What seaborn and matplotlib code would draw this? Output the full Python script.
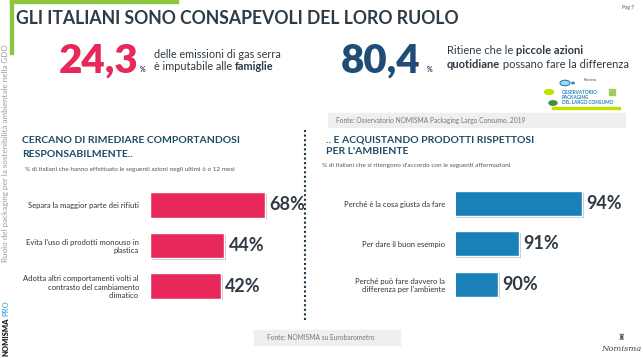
import matplotlib
matplotlib.use("Agg")
import matplotlib.pyplot as plt
import matplotlib.patheffects as pe
import seaborn as sns
from matplotlib.patches import Rectangle, Circle
from matplotlib.lines import Line2D

# ----- Data ----- #
left_labels = [
    "Separa la maggior parte dei rifiuti",
    "Evita l'uso di prodotti monouso in\nplastica",
    "Adotta altri comportamenti volti al\ncontrasto del cambiamento\nclimatico",
]
left_values = [68, 44, 42]

right_labels = [
    "Perché è la cosa giusta da fare",
    "Per dare il buon esempio",
    "Perché può fare davvero la\ndifferenza per l'ambiente",
]
right_values = [94, 91, 90]

kpi_values = ["24,3", "80,4"]

# ----- Style ----- #
sns.set_style("white")
plt.rcParams['font.family'] = ['Lato', 'DejaVu Sans']

PINK = "#e8285a"
BLUE = "#1a80b8"
NAVY = "#1f4d78"
HEAD = "#1d4a66"
DARK = "#2f3a44"
GRAY = "#555555"
GREEN = "#8cc63f"

W, H = 643, 358
fig = plt.figure(figsize=(W / 100, H / 100), dpi=100)
renderer = fig.canvas.get_renderer()


def px(x, y):
    return x / W, 1 - y / H


def text(x, y, s, **kw):
    return fig.text(*px(x, y), s, **kw)


def rich(x, y, parts, **kw):
    # parts: list of (string, weight); drawn one after the other on one line
    for s, weight in parts:
        t = text(x, y, s, fontweight=weight, **kw)
        x += t.get_window_extent(renderer).width


def rect(x, y, w, h, **kw):
    fig.patches.append(Rectangle(px(x, y + h), w / W, h / H,
                                 transform=fig.transFigure, **kw))


def axes_px(left, top, width, height):
    return fig.add_axes([left / W, 1 - (top + height) / H, width / W, height / H])


# ----- Decorations ----- #
rect(10, 0, 168, 3, color=GREEN, zorder=5)
rect(10, 0, 3, 54, color=GREEN, zorder=5)

text(16, 19, "GLI ITALIANI SONO CONSAPEVOLI DEL LORO RUOLO", fontsize=12.7,
     fontweight="bold", color="#2e3b45", va="center")
text(634, 8, "Pag 7", fontsize=3.5, color=GRAY, ha="right", va="center")

# KPIs
text(59, 61, kpi_values[0], fontsize=29, fontweight="heavy", color=PINK, va="center")
text(140, 69, "%", fontsize=5, fontweight="bold", color=DARK, va="center")
rich(154, 54, [("delle emissioni di gas serra", "normal")], fontsize=7.8, color=DARK, va="center")
rich(154, 67, [("è imputabile alle ", "normal"), ("famiglie", "bold")],
     fontsize=7.8, color=DARK, va="center")

text(341, 61, kpi_values[1], fontsize=29, fontweight="heavy", color=NAVY, va="center")
text(427, 69, "%", fontsize=5, fontweight="bold", color=DARK, va="center")
rich(447, 50, [("Ritiene che le ", "normal"), ("piccole azioni", "bold")],
     fontsize=8, color=DARK, va="center")
rich(447, 64, [("quotidiane", "bold"), (" possano fare la differenza", "normal")],
     fontsize=8, color=DARK, va="center")

# small logo
fig.patches.append(Circle(px(565, 83), 5 / W, transform=fig.transFigure,
                          facecolor="#9fdcf0", edgecolor="#2a7fc0", lw=0.8, zorder=5))
fig.patches.append(Circle(px(573, 83), 1.2 / W, transform=fig.transFigure,
                          color="#2a7fc0", zorder=5))
text(590, 80, "Nomisma", fontsize=2.3, color="#555555", ha="center", va="center")
fig.patches.append(Circle(px(549, 92), 4.5 / W, transform=fig.transFigure,
                          color="#c4e000", zorder=5))
fig.patches.append(Circle(px(553, 103), 4 / W, transform=fig.transFigure,
                          color="#3f8f3a", zorder=5))
rect(609, 89, 6, 6, color="#9ccc65", zorder=5)
text(562, 92, "OSSERVATORIO", fontsize=3.4, fontweight="bold", color="#2a7fc0", va="center")
text(562, 97.5, "PACKAGING", fontsize=3.4, fontweight="bold", color="#2a7fc0", va="center")
text(562, 103, "DEL LARGO CONSUMO", fontsize=3.4, fontweight="bold", color="#2a7fc0", va="center")
rect(552, 107, 68, 1.5, color="#c4e000", zorder=5)

# source boxes
rect(328, 113, 297, 14, color="#efefef", zorder=1)
text(336, 120.5, "Fonte: Osservatorio NOMISMA Packaging Largo Consumo, 2019",
     fontsize=4.8, color="#777777", va="center")
rect(254, 330, 146, 15, color="#efefef", zorder=1)
text(267, 338, "Fonte: NOMISMA su Eurobarometro", fontsize=4.8, color="#777777", va="center")

text(621, 349, "Nomisma", fontsize=6, fontstyle="italic", family="DejaVu Serif",
     color="#444444", ha="center", va="center")
text(621, 337, "♜", fontsize=6, family="DejaVu Sans", color="#555555",
     ha="center", va="center")

# side texts
text(6, 262, "Ruolo del packaging per la sostenibilità ambientale nella GDO",
     fontsize=5.8, color="#9a9a9a", rotation=90, ha="center", va="bottom")
text(6, 356, "NOMISMA", fontsize=5.5, fontweight="heavy", color="#222222",
     rotation=90, ha="center", va="bottom")
text(6, 316, "PRO", fontsize=5.5, fontweight="bold", color="#4fb0e0",
     rotation=90, ha="center", va="bottom")

# dotted separator
fig.lines.append(Line2D([305 / W, 305 / W], [1 - 130 / H, 1 - 320 / H],
                        transform=fig.transFigure, color="#1d3547",
                        linestyle=(0, (1, 1.2)), linewidth=1.5))

# section headings
text(22, 141, "CERCANO DI RIMEDIARE COMPORTANDOSI", fontsize=7.5, fontweight="bold",
     color=HEAD, va="center")
text(22, 154, "RESPONSABILMENTE..", fontsize=7.5, fontweight="bold", color=HEAD, va="center")
text(25, 169, "% di italiani che hanno effettuato le seguenti azioni negli ultimi 6 o 12 mesi",
     fontsize=4.6, color=GRAY, va="center")

text(326, 140, ".. E ACQUISTANDO PRODOTTI RISPETTOSI", fontsize=7.5, fontweight="bold",
     color=HEAD, va="center")
text(326, 152, "PER L'AMBIENTE", fontsize=7.5, fontweight="bold", color=HEAD, va="center")
text(322, 166, "% di italiani che si ritengono d'accordo con le seguenti affermazioni",
     fontsize=4.6, color=GRAY, va="center")


# ----- Bar charts ----- #
def bar_panel(ax, labels, values, color, xmin, xmax):
    sns.barplot(x=values, y=labels, orient="h", color=color, width=0.62,
                saturation=1, ax=ax)
    ax.set_xlim(xmin, xmax)
    ax.set_ylim(2.5, -0.5)
    ax.set_xlabel("")
    ax.set_ylabel("")
    ax.set_xticks([])
    ax.tick_params(axis="y", length=0, pad=8, labelsize=5.5, labelcolor="#333333")
    sns.despine(ax=ax, left=True, bottom=True)
    ax.patch.set_alpha(0)
    for bar in ax.patches:
        bar.set_path_effects([pe.SimplePatchShadow(offset=(1.2, -1.2), alpha=0.25),
                              pe.Normal()])
    ax.bar_label(ax.containers[0], fmt="%d%%", padding=3, fontsize=13,
                 fontweight="bold", color=DARK, clip_on=False)


ax_left = axes_px(150, 184.75, 150, 121.5)
bar_panel(ax_left, left_labels, left_values, PINK, 0, 150 / 1.69)

ax_right = axes_px(456, 183.4, 164, 120.75)
bar_panel(ax_right, right_labels, right_values, BLUE, 88, 88 + 164 / 21)

fig.savefig("out.png", dpi=100)
